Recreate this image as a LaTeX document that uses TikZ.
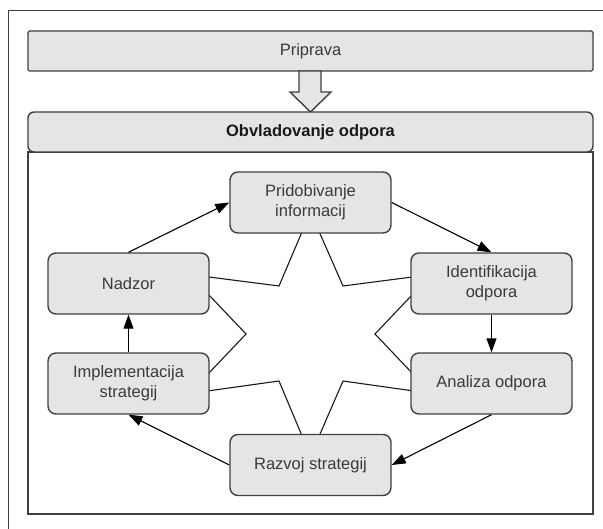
\documentclass[tikz,border=0pt]{standalone}
\usepackage{fontspec}
\setmainfont{Liberation Sans}
\usetikzlibrary{arrows.meta}
\definecolor{boxgray}{HTML}{E5E5E5}
\definecolor{linegray}{HTML}{404040}
\definecolor{textgray}{HTML}{3A3A3A}
\tikzset{
  stepbox/.style={draw=linegray, fill=boxgray, line width=1.4pt, rounded corners=8pt,
    minimum width=161pt, minimum height=61pt, inner sep=0pt, align=center,
    text=textgray, font=\fontsize{16.5}{20}\selectfont},
  bar/.style={draw=linegray, fill=boxgray, line width=1.4pt, minimum width=565pt,
    minimum height=40pt, inner sep=0pt, font=\fontsize{16.5}{20}\selectfont},
  flow/.style={-{Triangle[length=14pt,width=10pt]}, line width=1.1pt},
}
\begin{document}
\begin{tikzpicture}[x=1pt,y=-1pt]
  \useasboundingbox (0,0) rectangle (603,529);
  \draw[linegray, line width=1pt] (8,529) -- (8,11) -- (603,11);
  % preparation and the block arrow
  \node[bar, rounded corners=1.5pt, text=textgray] (p) at (310.5,51) {Priprava};
  \filldraw[draw=linegray, fill=boxgray, line width=1.4pt, line join=miter]
    (299,71) -- (321,71) -- (321,92) -- (331,92) -- (310.5,112) -- (290,92) -- (299,92) -- cycle;
  % container
  \draw[linegray, line width=1.4pt] (28,152) rectangle (593,514);
  \node[bar, rounded corners=6pt, text=black!90, font=\fontsize{16.5}{20}\selectfont\bfseries]
    (o) at (310.5,132) {Obvladovanje odpora};
  % star behind the cycle
  \draw[black!90, line width=1.1pt]
    (310.5,212) -- (343,286) -- (431.5,274.5) -- (375,334) -- (431.5,393.5)
    -- (343,381) -- (310.5,456) -- (279,381) -- (189.5,393.5) -- (246,334)
    -- (189.5,274.5) -- (279,286) -- cycle;
  \draw
    (310.5,202.5) node[stepbox] (0){Pridobivanje\\informacij}
    (491.5,283.5) node[stepbox] (1){Identifikacija\\odpora}
    (491.5,383.5) node[stepbox] (2){Analiza odpora}
    (310.5,465) node[stepbox] (3){Razvoj strategij}
    (128.5,383.5) node[stepbox] (4){Implementacija\\strategij}
    (128.5,283.5) node[stepbox] (5){Nadzor};
  \begin{scope}[flow]
    \draw (0.east) to (1.north);
    \draw (1.south) to (2.north);
    \draw (2.south) to (3.east);
    \draw (3.west) to (4.south);
    \draw (4.north) to (5.south);
    \draw (5.north) to (0.west);
  \end{scope}
\end{tikzpicture}
\end{document}
